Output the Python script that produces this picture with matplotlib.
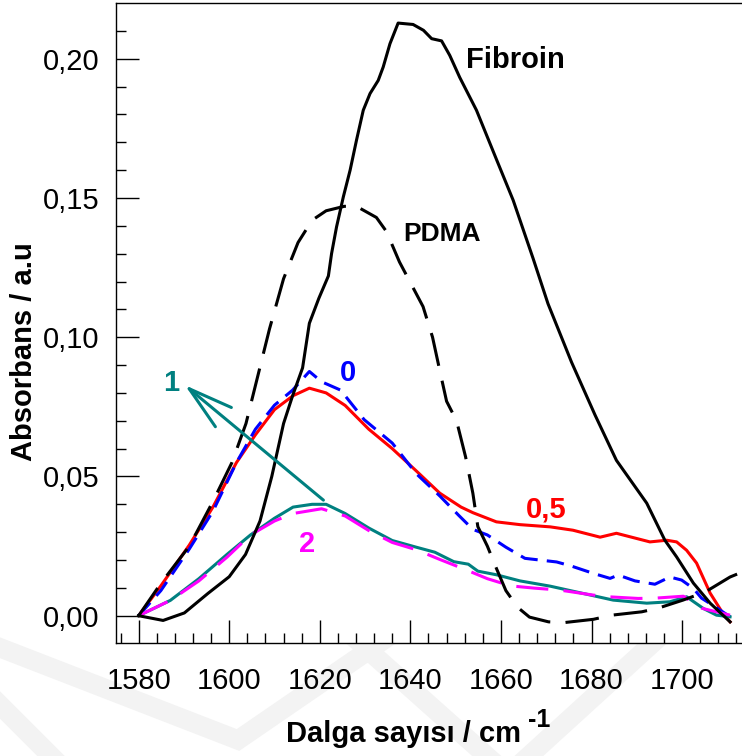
import numpy as np
import matplotlib
matplotlib.use("Agg")
from matplotlib import pyplot as plt
from matplotlib.ticker import MultipleLocator, FuncFormatter

plt.rcParams['font.family'] = ['Liberation Sans', 'DejaVu Sans']

# Fibroin (solid black)
wn_fib = [1580, 1585.4, 1590.1, 1595.3, 1600, 1603.6, 1606.8, 1609.4, 1612, 1614, 1616.2, 1617.7,
          1619.8, 1621.9, 1622.6, 1623.7, 1625.2, 1626.7, 1628.1, 1629.6, 1631.1, 1632.9, 1634.0,
          1635.5, 1637.3, 1640.6, 1642.9, 1644.7, 1646.9, 1648.7, 1650.9, 1654.6, 1659.1, 1662.7,
          1667.1, 1670.4, 1675.6, 1680.8, 1685.5, 1692.2, 1696.2, 1698.8, 1702.5, 1706.2, 1710.6]
abs_fib = [0, -0.0017, 0.001, 0.008, 0.014, 0.022, 0.034, 0.050, 0.069, 0.079, 0.089, 0.105,
           0.114, 0.122, 0.130, 0.1396, 0.1504, 0.160, 0.1707, 0.1815, 0.1875, 0.1922, 0.197,
           0.2054, 0.2128, 0.2123, 0.2102, 0.2072, 0.2064, 0.2012, 0.1933, 0.1815, 0.1635, 0.1492,
           0.1283, 0.112, 0.091, 0.072, 0.0558, 0.0404, 0.0271, 0.0211, 0.0117, 0.0045, -0.0022]

# PDMA (long dashed black)
wn_pdma = [1580, 1584.9, 1591.2, 1596.4, 1600.6, 1603.7, 1606.3, 1608.9, 1612, 1615.2, 1618.3,
           1621.4, 1625.4, 1628.1, 1632.5, 1634.7, 1637.6, 1640.2, 1642.8, 1644.9, 1646.5, 1648,
           1650.2, 1652.2, 1653.8, 1654.9, 1657, 1659, 1661.1, 1663.7, 1666.3, 1670.5, 1673.8,
           1680.4, 1684.5, 1691.1, 1694.7, 1700.2, 1705.1, 1710.6, 1713]
abs_pdma = [0, 0.0116, 0.025, 0.041, 0.055, 0.069, 0.086, 0.103, 0.121, 0.134, 0.142,
            0.1454, 0.147, 0.147, 0.143, 0.138, 0.127, 0.119, 0.111, 0.100, 0.088, 0.077,
            0.070, 0.057, 0.044, 0.032, 0.025, 0.017, 0.009, 0.003, -0.0005, -0.0022, -0.0025,
            -0.0013, 0.0002, 0.0014, 0.0027, 0.0056, 0.0085, 0.0139, 0.0155]

# sample 0 (short dashed blue)
wn_0 = [1580, 1584.9, 1591.2, 1596.4, 1601.6, 1605.8, 1610, 1614, 1617.7, 1620.4, 1624.6, 1629.8,
        1636, 1641.3, 1646.5, 1650.7, 1653.8, 1657, 1661.1, 1665.3, 1672.3, 1675.6, 1680.4,
        1684.1, 1685.9, 1689.6, 1694, 1697.3, 1699.9, 1702.5, 1704.3, 1707.5, 1710.6]
abs_0 = [0, 0.009, 0.024, 0.0375, 0.055, 0.067, 0.0756, 0.081, 0.0877, 0.084, 0.081, 0.0704,
         0.062, 0.051, 0.043, 0.036, 0.031, 0.029, 0.0246, 0.0206, 0.0193, 0.0178, 0.0152,
         0.0134, 0.0146, 0.0125, 0.0113, 0.0139, 0.0128, 0.0098, 0.0063, 0.003, -0.0004]

# sample 0,5 (solid red)
wn_05 = [1580, 1584.9, 1591.2, 1596.4, 1601.6, 1605.8, 1610, 1614.1, 1617.7, 1621.4, 1625.6,
         1630.8, 1636, 1641.3, 1646.5, 1651.2, 1653.8, 1659, 1664.2, 1670.9, 1675.9, 1681.9,
         1685.5, 1692.9, 1696.6, 1698.8, 1701, 1703.2, 1706.2, 1708.8, 1710.6]
abs_05 = [0, 0.0107, 0.0254, 0.039, 0.055, 0.065, 0.074, 0.079, 0.0817, 0.080, 0.0755,
          0.067, 0.060, 0.052, 0.044, 0.039, 0.037, 0.0337, 0.0327, 0.0319, 0.0307, 0.0282,
          0.0296, 0.0265, 0.0271, 0.0265, 0.0235, 0.0189, 0.0081, 0.0014, -0.0022]

# sample 1 (solid teal)
wn_1 = [1580, 1587, 1593.3, 1599.5, 1604.7, 1610, 1614.1, 1618.3, 1621.4, 1625.6, 1630.8, 1636,
        1641.3, 1645.4, 1649.6, 1652.8, 1654.9, 1659, 1664.2, 1670.9, 1684.8, 1692.2, 1697.3,
        1701, 1704.7, 1707.6, 1710.6]
abs_1 = [0, 0.0055, 0.0133, 0.022, 0.029, 0.035, 0.039, 0.040, 0.040, 0.0367, 0.0315, 0.027,
         0.0246, 0.0228, 0.0194, 0.0185, 0.016, 0.0147, 0.0125, 0.0106, 0.0056, 0.0045, 0.005,
         0.0068, 0.0026, 0.0002, -0.0004]

# sample 2 (dashed magenta)
wn_2 = [1580, 1587, 1593.3, 1599.5, 1604.7, 1610, 1614.1, 1620.4, 1625.6, 1630.8, 1636, 1641.3,
        1646.5, 1651.8, 1657, 1662.2, 1667.4, 1673, 1680.4, 1683.7, 1690.3, 1694, 1700.3,
        1704.3, 1710.6]
abs_2 = [0, 0.0055, 0.0125, 0.021, 0.029, 0.034, 0.0367, 0.0384, 0.0358, 0.0306, 0.0263, 0.0237,
         0.0202, 0.0168, 0.0133, 0.0107, 0.0099, 0.0092, 0.0074, 0.0068, 0.0062, 0.0063, 0.007,
         0.0027, 0.0002]

teal = "#008080"
lw = 2.2

fig = plt.figure(figsize=(7.42, 7.56), dpi=100)

# faint watermark chevrons behind the plot (pixel coords)
wm_lines = [([-20, 238, 420], [640, 740, 615]),
            ([340, 508, 700], [625, 775, 600]),
            ([-10, 70], [695, 775])]
for xs, ys in wm_lines:
    fig.add_artist(plt.Line2D(np.array(xs) / 742, 1 - np.array(ys) / 756, color="#f3f3f3",
                              lw=14, solid_joinstyle="miter", transform=fig.transFigure, zorder=0))

ax = fig.add_axes([116 / 742, 113 / 756, 634 / 742, 639.7 / 756])
ax.set_xlim(1575, 1715)
ax.set_ylim(-0.0098, 0.2199)

ax.plot(wn_05, abs_05, color="red", lw=lw)
ax.plot(wn_0, abs_0, color="blue", lw=lw, dashes=(5.7, 3))
ax.plot(wn_1, abs_1, color=teal, lw=lw)
ax.plot(wn_2, abs_2, color="magenta", lw=lw, dashes=(10.5, 5))
ax.plot(wn_pdma, abs_pdma, color="black", lw=lw, dashes=(11, 5))
ax.plot(wn_fib, abs_fib, color="black", lw=lw)

# arrow from 2 to 1
ax.annotate("", xy=(1590.2, 0.0828), xytext=(1620.8, 0.0415),
            arrowprops=dict(arrowstyle="->,head_length=3.2,head_width=0.9", color=teal,
                            lw=lw, mutation_scale=10, shrinkA=0, shrinkB=0))

ax.text(1663.3, 0.1966, "Fibroin", fontsize=21, fontweight="bold", ha="center", va="baseline")
ax.text(1647.0, 0.1345, "PDMA", fontsize=19, fontweight="bold", ha="center", va="baseline")
ax.text(1626.3, 0.0842, "0", fontsize=21, fontweight="bold", color="blue", ha="center", va="baseline")
ax.text(1587.1, 0.0806, "1", fontsize=21, fontweight="bold", color=teal, ha="center", va="baseline")
ax.text(1670.0, 0.0354, "0,5", fontsize=21, fontweight="bold", color="red", ha="center", va="baseline")
ax.text(1617.2, 0.0228, "2", fontsize=21, fontweight="bold", color="magenta", ha="center", va="baseline")

ax.xaxis.set_major_locator(MultipleLocator(20))
ax.xaxis.set_minor_locator(MultipleLocator(4))
ax.yaxis.set_major_locator(MultipleLocator(0.05))
ax.yaxis.set_minor_locator(MultipleLocator(0.01))
ax.yaxis.set_major_formatter(FuncFormatter(lambda v, p: f"{v:.2f}".replace(".", ",")))
ax.xaxis.set_major_formatter(FuncFormatter(lambda v, p: f"{v:.0f}"))

ax.tick_params(which="both", direction="in", top=False, right=False, width=1.0, labelsize=21)
ax.tick_params(which="major", length=16.5)
ax.tick_params(which="minor", length=7)
ax.tick_params(axis="x", which="major", pad=17)
ax.tick_params(axis="y", which="major", pad=12)
for s in ax.spines.values():
    s.set_linewidth(1.0)
ax.spines["right"].set_visible(False)

fig.text(286 / 742, 1 - 742 / 756, "Dalga sayısı / cm", fontsize=21, fontweight="bold",
         ha="left", va="baseline")
fig.text(528 / 742, 1 - 727 / 756, "-1", fontsize=18, fontweight="bold", ha="left", va="baseline")
fig.text(32 / 742, 1 - 352 / 756, "Absorbans / a.u", fontsize=21, fontweight="bold",
         rotation=90, rotation_mode="anchor", ha="center", va="baseline")

fig.savefig("out.png", dpi=100)
